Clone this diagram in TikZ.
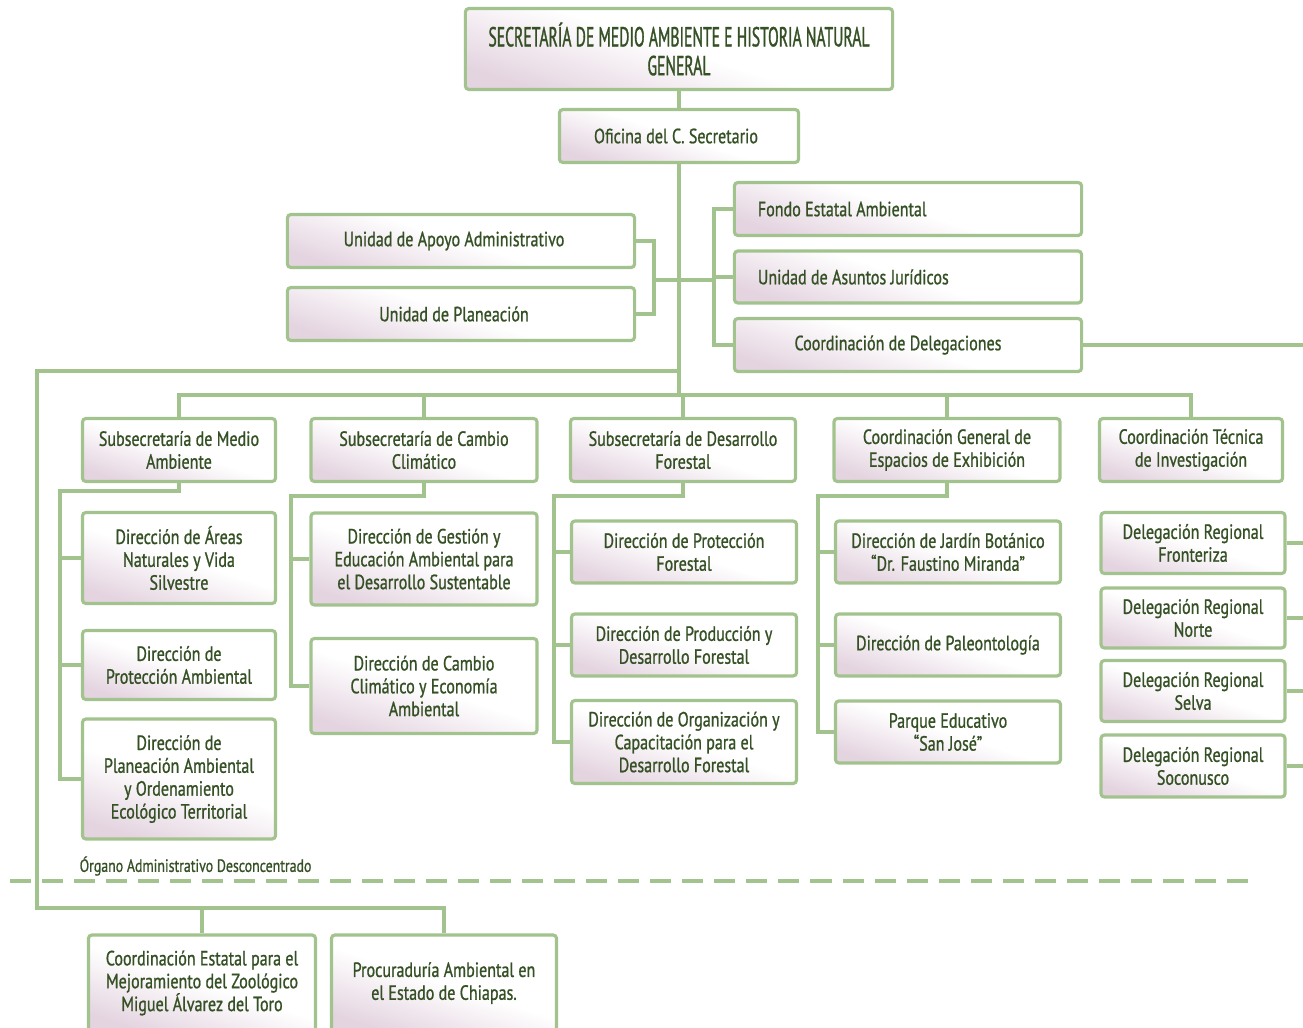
\documentclass[tikz,border=0pt]{standalone}
\usepackage{fontspec}
\setmainfont{PT Sans}[FakeStretch=0.78, FakeBold=0.9]
\newfontfamily\titlefont{PT Sans}[FakeStretch=0.57, FakeBold=1.1]
\usepackage{xcolor}
\definecolor{linegreen}{RGB}{163,195,142}
\definecolor{textgreen}{RGB}{52,80,36}
\definecolor{boxpink}{RGB}{228,212,224}
\def\bodyfont{\fontsize{5.85}{6.5}\selectfont}

\tikzset{
  box/.style={draw=linegreen, line width=0.9pt, rounded corners=1pt, align=center,
    text=textgreen, inner sep=0pt, font=\bodyfont,
    top color=white, bottom color=boxpink, middle color=white, shading angle=-18},
  leftbox/.style={box, align=flush left, text width=3.0cm},
  conn/.style={draw=linegreen, line width=1.2pt},
  dashline/.style={draw=linegreen, line width=1.2pt, dash pattern=on 0.21cm off 0.11cm},
}

\begin{document}
\begin{tikzpicture}[x=0.01cm, y=-0.01cm]
\useasboundingbox (0,0) rectangle (1303,1027);

% head
\node[box, minimum width=4.27cm, minimum height=0.81cm, font=\titlefont\fontsize{7.8}{8.2}\selectfont] (sec) at (679,49) {SECRETARÍA DE MEDIO AMBIENTE E HISTORIA NATURAL\\GENERAL};
\node[box, minimum width=2.39cm, minimum height=0.53cm] (ofi) at (679,136) {Oficina del C. Secretario\hspace*{0.06cm}};

\node[box, minimum width=3.47cm, minimum height=0.53cm] (uaa) at (461,241) {Unidad de Apoyo Administrativo\hspace*{0.14cm}};
\node[box, minimum width=3.47cm, minimum height=0.53cm] (upl) at (461,314) {Unidad de Planeación\hspace*{0.14cm}};
\node[leftbox, minimum width=3.47cm, minimum height=0.53cm] (fea) at (908,209) {Fondo Estatal Ambiental};
\node[leftbox, minimum width=3.47cm, minimum height=0.52cm] (uaj) at (908,277) {Unidad de Asuntos Jurídicos};
\node[box, minimum width=3.47cm, minimum height=0.53cm] (cde) at (908,345) {Coordinación de Delegaciones\hspace*{0.2cm}};

% second level
\node[box, minimum width=1.93cm, minimum height=0.63cm] (s1) at (179,450) {Subsecretaría de Medio\\Ambiente};
\node[box, minimum width=2.26cm, minimum height=0.63cm] (s2) at (424,450) {Subsecretaría de Cambio\\Climático};
\node[box, minimum width=2.25cm, minimum height=0.63cm] (s3) at (683,450) {Subsecretaría de Desarrollo\\Forestal};
\node[box, minimum width=2.26cm, minimum height=0.63cm] (s4) at (947,450) {Coordinación General de\\Espacios de Exhibición};
\node[box, minimum width=1.83cm, minimum height=0.63cm] (s5) at (1191,450) {Coordinación Técnica\\de Investigación};

% direcciones
\node[box, minimum width=1.93cm, minimum height=0.91cm] (d11) at (179,558) {Dirección de Áreas\\Naturales y Vida\\Silvestre};
\node[box, minimum width=1.93cm, minimum height=0.69cm] (d12) at (179,665) {Dirección de\\Protección Ambiental};
\node[box, minimum width=1.93cm, minimum height=1.20cm] (d13) at (179,779) {Dirección de\\Planeación Ambiental\\y Ordenamiento\\Ecológico Territorial};

\node[box, minimum width=2.26cm, minimum height=0.92cm] (d21) at (424,559) {Dirección de Gestión y\\Educación Ambiental para\\el Desarrollo Sustentable};
\node[box, minimum width=2.26cm, minimum height=0.95cm] (d22) at (424,686) {Dirección de Cambio\\Climático y Economía\\Ambiental};

\node[box, minimum width=2.25cm, minimum height=0.62cm] (d31) at (684,552) {Dirección de Protección\\Forestal};
\node[box, minimum width=2.25cm, minimum height=0.62cm] (d32) at (684,645) {Dirección de Producción y\\Desarrollo Forestal};
\node[box, minimum width=2.25cm, minimum height=0.83cm] (d33) at (684,742) {Dirección de Organización y\\Capacitación para el\\Desarrollo Forestal};

\node[box, minimum width=2.25cm, minimum height=0.62cm] (d41) at (948,552) {Dirección de Jardín Botánico\\“Dr. Faustino Miranda”};
\node[box, minimum width=2.25cm, minimum height=0.62cm] (d42) at (948,645) {Dirección de Paleontología};
\node[box, minimum width=2.25cm, minimum height=0.62cm] (d43) at (948,732) {Parque Educativo\\“San José”};

\node[box, minimum width=1.84cm, minimum height=0.61cm] (g1) at (1193,543) {Delegación Regional\\Fronteriza};
\node[box, minimum width=1.84cm, minimum height=0.60cm] (g2) at (1193,618) {Delegación Regional\\Norte};
\node[box, minimum width=1.84cm, minimum height=0.61cm] (g3) at (1193,691) {Delegación Regional\\Selva};
\node[box, minimum width=1.84cm, minimum height=0.62cm] (g4) at (1193,766) {Delegación Regional\\Soconusco};

% desconcentrado
\node[anchor=west, inner sep=0pt, text=textgreen, font=\fontsize{5.05}{5.5}\selectfont] (org) at (79,866) {Órgano Administrativo Desconcentrado};
\node[box, minimum width=2.27cm, minimum height=0.96cm] (cez) at (202,983) {Coordinación Estatal para el\\Mejoramiento del Zoológico\\Miguel Álvarez del Toro};
\node[box, minimum width=2.25cm, minimum height=0.96cm] (pro) at (444,983) {Procuraduría Ambiental en\\el Estado de Chiapas.};

% junctions
\coordinate (jl) at (654,280);
\coordinate (jr) at (714,280);
\coordinate (bus) at (679,395);
\coordinate (lb) at (37,371);
\coordinate (lbb) at (37,908);
\coordinate (edge) at (1303,0);
\coordinate (c1) at (60,491);
\coordinate (c2) at (291,496);
\coordinate (c3) at (554,496);
\coordinate (c4) at (818,496);

% connectors
\draw[conn] (sec) -- (ofi);
\draw[conn] (ofi) -- (bus);
\draw[conn] (uaa.east) -| (jl |- upl.east) -- (upl.east);
\draw[conn] (jl) -- (jr);
\draw[conn] (fea.west) -| (jr |- cde.west) -- (cde.west);
\draw[conn] (uaj.west) -- (uaj.west -| jr);
\draw[conn, line width=0.9pt] (cde.east) -- (cde.east -| edge);
\draw[conn] (s1.north) |- (bus) -| (s5.north);
\foreach \n in {s2,s3,s4}
  \draw[conn] (\n.north) -- (\n.north |- bus);
\draw[conn] (ofi.south |- lb) -- (lb) -- (lbb) -| (pro.north);
\draw[conn] (cez.north) -- (cez.north |- lbb);

\draw[conn] (s1.south) |- (c1) |- (d13.west);
\foreach \n in {d11,d12}
  \draw[conn] (\n.west) -- (\n.west -| c1);
\draw[conn] (s2.south) |- (c2) |- (d22.west);
\draw[conn] (d21.west) -- (d21.west -| c2);
\draw[conn] (s3.south) |- (c3) |- (d33.west);
\foreach \n in {d31,d32}
  \draw[conn] (\n.west) -- (\n.west -| c3);
\draw[conn] (s4.south) |- (c4) |- (d43.west);
\foreach \n in {d41,d42}
  \draw[conn] (\n.west) -- (\n.west -| c4);
\foreach \n in {g1,g2,g3,g4}
  \draw[conn, line width=0.9pt] (\n.east) -- (\n.east -| edge);

\draw[dashline] (10,881) -- (1258,881);

\end{tikzpicture}
\end{document}
